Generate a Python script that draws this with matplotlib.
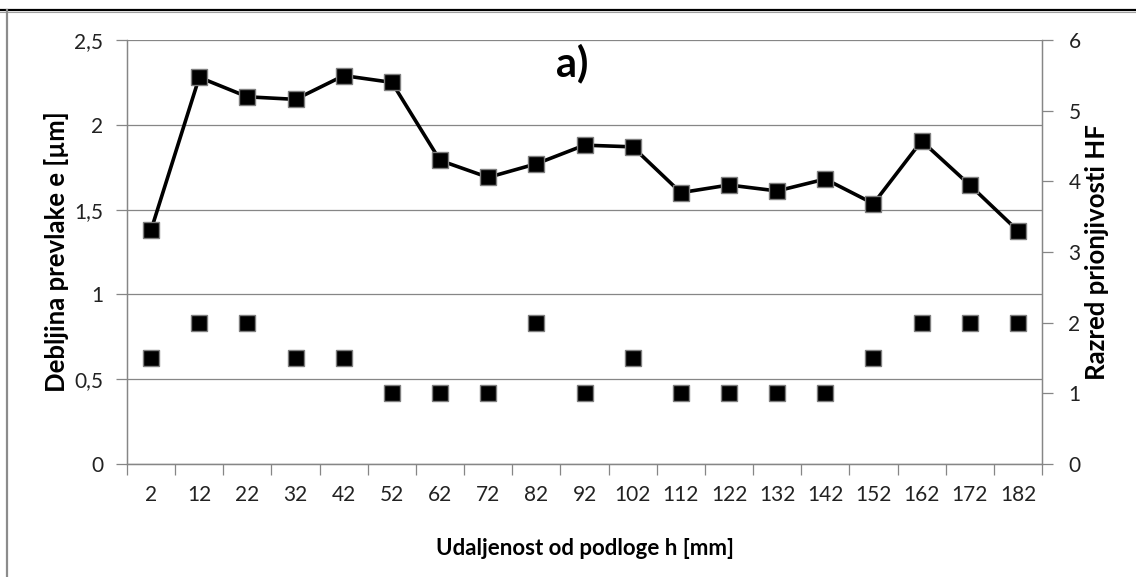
import matplotlib
matplotlib.use('Agg')
import matplotlib.pyplot as plt
import numpy as np
from matplotlib.lines import Line2D
from matplotlib.ticker import FixedLocator, FuncFormatter

plt.rcParams['font.family'] = ['Lato', 'DejaVu Sans']

# distance from substrate h [mm]
distances = [2, 12, 22, 32, 42, 52, 62, 72, 82, 92, 102, 112, 122, 132, 142, 152, 162, 172, 182]
# coating thickness e [um] (left axis)
thickness = [1.38, 2.28, 2.165, 2.15, 2.29, 2.25, 1.79, 1.69, 1.77, 1.88, 1.87, 1.60,
             1.645, 1.61, 1.68, 1.535, 1.905, 1.645, 1.375]
# adhesion class HF (right axis)
hf_class = [1.5, 2, 2, 1.5, 1.5, 1, 1, 1, 2, 1, 1.5, 1, 1, 1, 1, 1.5, 2, 2, 2]

W, H = 1136, 577
fig = plt.figure(figsize=(W / 100, H / 100), dpi=100)
ax = fig.add_axes([127 / W, 1 - 464 / H, (1042 - 127) / W, (464 - 40) / H])
ax2 = ax.twinx()

grid_col = '#868686'
edge_col = '#7f7f7f'
text_col = '#222222'
x = np.arange(len(distances))

ax.plot(x, thickness, color='black', lw=2.6, marker='s', ms=12,
        mfc='black', mec=edge_col, mew=1.0, zorder=3)
ax2.plot(x, hf_class, ls='none', marker='s', ms=12,
         mfc='black', mec=edge_col, mew=1.0, zorder=3)

ax.set_xlim(-0.5, len(distances) - 0.5)
ax.set_ylim(0, 2.5)
ax2.set_ylim(0, 6)

ax.set_yticks([0, 0.5, 1, 1.5, 2, 2.5])
ax.yaxis.set_major_formatter(FuncFormatter(lambda v, p: ('%g' % v).replace('.', ',')))
ax2.set_yticks(range(7))
ax.grid(axis='y', color=grid_col, lw=0.9)
ax.set_axisbelow(True)

ax.set_xticks(x)
ax.set_xticklabels([str(d) for d in distances])
ax.xaxis.set_minor_locator(FixedLocator(np.arange(-0.5, len(distances), 1)))
ax.tick_params(axis='x', which='major', length=0, pad=15, labelsize=15, colors=text_col)
ax.tick_params(axis='x', which='minor', length=8, width=0.9, color=grid_col)
ax.tick_params(axis='y', length=8, width=0.9, color=grid_col, labelsize=15,
               labelcolor=text_col, pad=9)
ax2.tick_params(axis='y', length=8, width=0.9, color=grid_col, labelsize=15,
                labelcolor=text_col, pad=11)

for a in (ax, ax2):
    a.spines['top'].set_visible(False)
    for s in ('left', 'right', 'bottom'):
        a.spines[s].set_color(grid_col)
        a.spines[s].set_linewidth(0.9)

ax.set_xlabel('Udaljenost od podloge h [mm]', fontsize=16, fontweight='bold', labelpad=24)
ax.set_ylabel('Debljina prevlake e [µm]', fontsize=18.5, fontweight='bold', labelpad=4)
ax2.set_ylabel('Razred prionjivosti HF', fontsize=18.5, fontweight='bold', labelpad=3)

fig.text(572 / W, 1 - 63 / H, 'a)', fontsize=30, fontweight='bold', ha='center', va='center')

# outer frame of the original figure
fig.add_artist(Line2D([0, 1], [1 - 9.5 / H, 1 - 9.5 / H], transform=fig.transFigure,
                      color='black', lw=1.6))
fig.add_artist(Line2D([0, 1], [1 - 11.5 / H, 1 - 11.5 / H], transform=fig.transFigure,
                      color='#a0a0a0', lw=0.8))
fig.add_artist(Line2D([7 / W, 7 / W], [0, 1 - 10 / H], transform=fig.transFigure,
                      color='#8c8c8c', lw=1.6))

fig.savefig('out.png', dpi=100)
